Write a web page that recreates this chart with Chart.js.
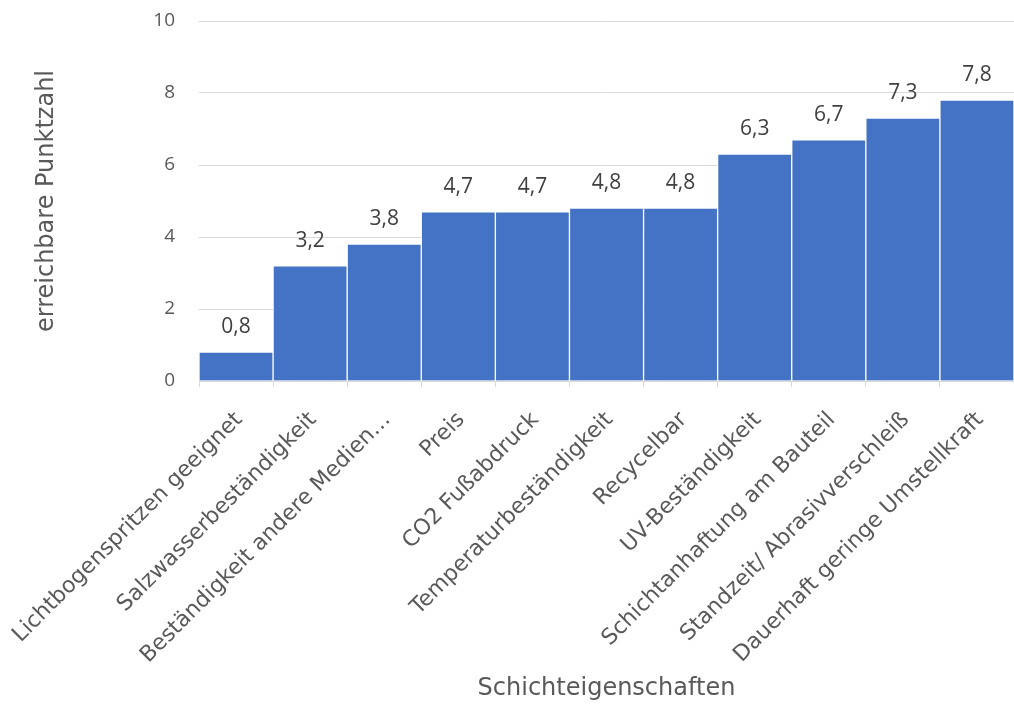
<!DOCTYPE html>
<html>
<head>
<meta charset="utf-8">
<script src="https://cdn.jsdelivr.net/npm/chart.js@4"></script>
<style>
  html, body { margin: 0; padding: 0; background: #fff; }
  #wrap { width: 1014px; height: 705px; }
</style>
</head>
<body>
<div id="wrap"><canvas id="chart"></canvas></div>
<script>
// Kategorien und Werte
const categories = [
    'Lichtbogenspritzen geeignet',
    'Salzwasserbeständigkeit',
    'Beständigkeit andere Medien…',
    'Preis',
    'CO2 Fußabdruck',
    'Temperaturbeständigkeit',
    'Recycelbar',
    'UV-Beständigkeit',
    'Schichtanhaftung am Bauteil',
    'Standzeit/ Abrasivverschleiß',
    'Dauerhaft geringe Umstellkraft'
];
const scores = [0.8, 3.2, 3.8, 4.7, 4.7, 4.8, 4.8, 6.3, 6.7, 7.3, 7.8];
const yTicks = [0, 2, 4, 6, 8, 10];

const numFont = "'Open Sans', sans-serif";
const textFont = "'DejaVu Sans', sans-serif";

// Simple plugin for value labels above the bars
const valueLabels = {
    id: 'valueLabels',
    afterDatasetsDraw(chart) {
        const ctx = chart.ctx;
        const meta = chart.getDatasetMeta(0);
        ctx.save();
        ctx.font = '21px ' + numFont;
        ctx.fillStyle = '#404040';
        ctx.textAlign = 'center';
        ctx.textBaseline = 'alphabetic';
        meta.data.forEach((bar, i) => {
            const txt = scores[i].toFixed(1).replace('.', ',');
            ctx.fillText(txt, bar.x, bar.y - 19);
        });
        ctx.restore();
    }
};

new Chart(document.getElementById('chart'), {
    type: 'bar',
    data: {
        labels: categories,
        datasets: [{
            data: scores,
            backgroundColor: '#4472C4',
            borderColor: '#ffffff',
            borderWidth: 1,
            borderSkipped: 'bottom',
            categoryPercentage: 1.0,
            barPercentage: 1.0
        }]
    },
    options: {
        responsive: true,
        maintainAspectRatio: false,
        animation: false,
        layout: { padding: { top: 21, right: 0, left: 0, bottom: 0 } },
        plugins: {
            legend: { display: false },
            tooltip: { enabled: false }
        },
        scales: {
            x: {
                grid: {
                    drawOnChartArea: false,
                    color: '#d9d9d9',
                    tickLength: 6,
                    offset: true
                },
                border: { color: '#d9d9d9' },
                ticks: {
                    color: '#595959',
                    font: { family: textFont, size: 22 },
                    minRotation: 45,
                    maxRotation: 45,
                    autoSkip: false,
                    padding: 20,
                    labelOffset: 3
                },
                title: {
                    display: true,
                    text: 'Schichteigenschaften',
                    color: '#595959',
                    font: { family: textFont, size: 24 },
                    padding: { top: 4, bottom: 2 }
                },
                afterFit(scale) {
                    scale.height = 324;
                    scale.paddingLeft = 0;
                    scale.paddingRight = 0;
                }
            },
            y: {
                min: 0,
                max: 10,
                afterBuildTicks(scale) {
                    scale.ticks = yTicks.map(v => ({ value: v }));
                },
                grid: { color: '#d9d9d9', drawTicks: false },
                border: { display: false },
                ticks: {
                    color: '#595959',
                    font: { family: numFont, size: 19 },
                    padding: 24
                },
                title: {
                    display: true,
                    text: 'erreichbare Punktzahl',
                    color: '#595959',
                    font: { family: textFont, size: 24 },
                    padding: { top: 32, bottom: 0 }
                },
                afterFit(scale) {
                    scale.width = 199;
                    scale.paddingTop = 0;
                    scale.paddingBottom = 0;
                }
            }
        }
    },
    plugins: [valueLabels]
});
</script>
</body>
</html>
